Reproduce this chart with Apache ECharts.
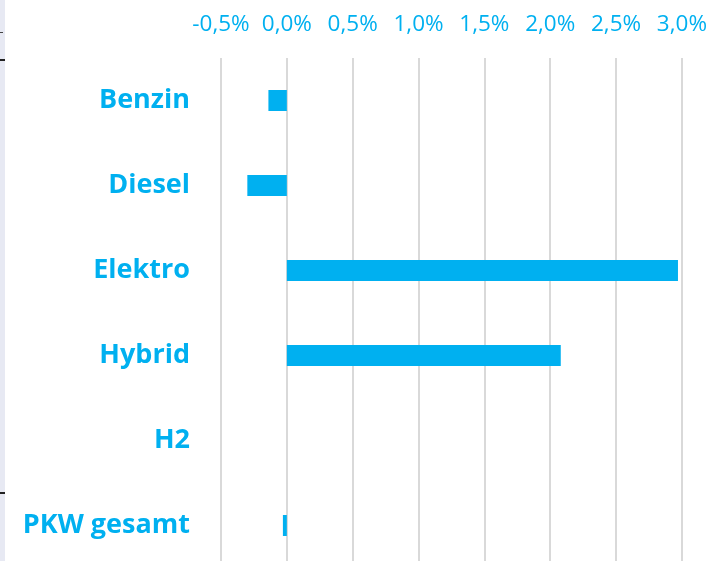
<!DOCTYPE html>
<html><head><meta charset="utf-8">
<script src="https://cdn.jsdelivr.net/npm/echarts@6/dist/echarts.min.js"></script>
<style>html,body{margin:0;padding:0;background:#fff;overflow:hidden}#c{width:710px;height:571px}</style>
</head><body><div id="c"></div>
<script>
const categories = ['Benzin', 'Diesel', 'Elektro', 'Hybrid', 'H2', 'PKW gesamt'];
const values = [-0.14, -0.30, 2.97, 2.08, 0, -0.03];
const xMin = -0.5, xMax = 3.0, xStep = 0.5;
const BLUE = '#00b0f0';
const chart = echarts.init(document.getElementById('c'));
chart.setOption({
  animation: false,
  grid: { left: 221, right: 27, top: 58, bottom: 3, containLabel: false },
  xAxis: {
    type: 'value', position: 'top', min: xMin, max: xMax, interval: xStep,
    axisLine: { show: false }, axisTick: { show: false },
    splitLine: { lineStyle: { color: '#d9d9d9', width: 2 } },
    axisLabel: { color: BLUE, fontSize: 22.5, fontFamily: 'Open Sans', margin: 22,
      formatter: v => v.toFixed(1).replace('.', ',') + '%' }
  },
  yAxis: {
    type: 'category', inverse: true, data: categories,
    axisLine: { show: false }, axisTick: { show: false },
    axisLabel: { color: BLUE, fontSize: 27, fontWeight: 'bold', fontFamily: 'Open Sans', margin: 31 }
  },
  series: [{ type: 'bar', data: values, barWidth: 21, itemStyle: { color: BLUE } }],
  graphic: [
    { type: 'rect', shape: { x: 0, y: 0, width: 5, height: 571 }, style: { fill: '#e7e9f3' } },
    { type: 'rect', shape: { x: 0, y: 59, width: 5, height: 2 }, style: { fill: '#222' } },
    { type: 'rect', shape: { x: 0, y: 492, width: 5, height: 2 }, style: { fill: '#222' } },
    { type: 'rect', shape: { x: 0, y: 32, width: 3, height: 1 }, style: { fill: '#444' } }
  ]
});
</script></body></html>
